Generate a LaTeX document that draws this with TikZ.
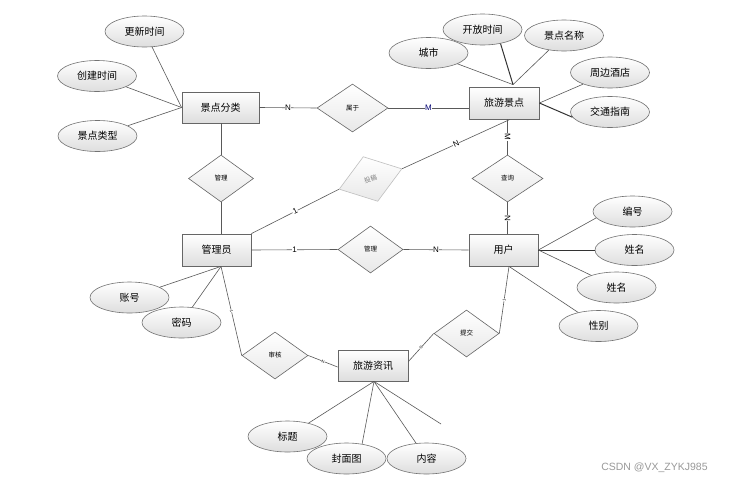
\documentclass[tikz,border=0pt]{standalone}
\usepackage{fontspec}
\setmainfont{Liberation Sans}
\newfontfamily\cjk{Noto Sans CJK SC}
\usetikzlibrary{shapes.geometric,calc}
\begin{document}
\begin{tikzpicture}[x=1pt,y=-1pt,
  ent/.style={draw=black!60, line width=0.8pt, rectangle, top color=white, bottom color=black!13, minimum width=70pt, minimum height=31pt, inner sep=0pt, font=\cjk\fontsize{10}{12}\selectfont},
  attr/.style={draw=black!55, line width=0.6pt, ellipse, top color=white, bottom color=black!13, minimum width=79pt, minimum height=31pt, inner sep=0pt, font=\cjk\fontsize{10}{12}\selectfont},
  rel/.style={draw=black!60, line width=0.6pt, diamond, top color=white, bottom color=black!9, minimum width=65pt, minimum height=47pt, inner sep=0pt, font=\cjk\fontsize{6.5}{8}\selectfont},
  ln/.style={draw=black!65, line width=0.6pt},
  thk/.style={draw=black!80, line width=1pt},
  card/.style={fill=white, inner sep=0.5pt, font=\fontsize{8}{9}\selectfont},
  tinylbl/.style={fill=white, inner sep=0.2pt, font=\fontsize{4}{5}\selectfont, sloped}
]
\useasboundingbox (0,0) rectangle (730,482);
\fill[white] (0,0) rectangle (730,482);

% entities
\node[ent, minimum width=77pt] (jdfl) at (220.5,107.5) {景点分类};
\node[ent, minimum height=32pt] (lyjd) at (504,103) {旅游景点};
\node[ent, minimum width=69pt, minimum height=32pt] (gly) at (216.5,250) {管理员};
\node[ent, minimum width=69pt, minimum height=32pt] (yh) at (503.5,250) {用户};
\node[ent] (lyzx) at (373,365.5) {旅游资讯};

% relationships
\node[rel, minimum width=71pt, minimum height=48pt] (sy) at (352.5,108) {属于};
\node[rel] (gl1) at (221,178.5) {管理};
\node[rel, minimum width=66pt, draw=black!25, text=black!50, rotate=18] (tg) at (370.5,179) {投稿};
\node[rel, minimum width=71pt] (cx) at (507.5,178.5) {查询};
\node[rel] (gl2) at (370.5,249.5) {管理};
\node[rel, minimum width=66pt] (sh) at (275,355.5) {审核};
\node[rel] (tj) at (466.5,333.5) {提交};

% attributes
\node[attr] (gxsj) at (144.5,31.5) {更新时间};
\node[attr] (cjsj) at (97,76) {创建时间};
\node[attr] (jdlx) at (97.5,136) {景点类型};
\node[attr] (cs) at (428.5,53) {城市};
\node[attr] (kfsj) at (482.5,29.5) {开放时间};
\node[attr] (jdmc) at (564,35.5) {景点名称};
\node[attr] (zbjd) at (610,72.5) {周边酒店};
\node[attr] (jtzn) at (610,112) {交通指南};
\node[attr] (bh) at (632.5,211.5) {编号};
\node[attr] (xma) at (634.5,250) {姓名};
\node[attr] (xmb) at (616.5,287.5) {姓名};
\node[attr] (xb) at (598.5,326) {性别};
\node[attr] (zh) at (129.5,297.5) {账号};
\node[attr] (mm) at (181.5,322.5) {密码};
\node[attr] (bt) at (287.5,436.5) {标题};
\node[attr] (fmt) at (346.5,458.5) {封面图};
\node[attr] (nr) at (426.5,458.5) {内容};
\coordinate (dang) at (441,424);

% attribute lines
\draw[ln] (gxsj) -- (jdfl.west);
\draw[ln] (cjsj) -- (jdfl.west);
\draw[ln] (jdlx) -- (jdfl.west);
\draw[ln] (cs) -- ([xshift=9pt,yshift=2pt]lyjd.north);
\draw[thk] (kfsj.-38) -- ([xshift=9pt,yshift=2pt]lyjd.north);
\draw[ln] (jdmc) -- ([xshift=9pt,yshift=2pt]lyjd.north);
\draw[ln] (zbjd) -- (lyjd.east);
\draw[thk] (jtzn.188) -- (lyjd.east);
\draw[ln] (bh.190) -- (yh.east);
\draw[thk] (xma) -- (yh.east);
\draw[ln] (xmb) -- (yh.east);
\draw[ln] (xb) -- ([xshift=5.5pt]yh.south);
\draw[ln] (zh) -- ([xshift=4.5pt]gly.south);
\draw[ln] (mm) -- ([xshift=4.5pt]gly.south);
\draw[ln] (bt) -- ([xshift=1pt]lyzx.south);
\draw[ln] (fmt.43) -- ([xshift=1pt]lyzx.south);
\draw[ln] (nr) -- ([xshift=1pt]lyzx.south);
\draw[ln] ([xshift=1pt]lyzx.south) -- (dang);

% relationship lines
\draw[ln] (jdfl.east) -- node[card]{N} (sy.west);
\draw[ln] (sy.east) -- node[card, text=blue!45!black]{M} (sy.east -| lyjd.west);
\draw[ln] (gl1.north |- jdfl.south) -- (gl1.north);
\draw[ln] (gl1.south) -- (gl1.south |- gly.north);
\draw[ln] ([xshift=6pt]lyjd.south) -- node[card, sloped]{N} (tg.east);
\draw[ln] (gly.north east) -- node[card, sloped]{1} (tg.west);
\draw[ln] (cx.north |- lyjd.south) -- node[card, sloped]{M} (cx.north);
\draw[ln] (cx.south) -- node[card, sloped]{N} (cx.south |- yh.north);
\draw[ln] (gly.east) -- node[card]{1} (gl2.west);
\draw[ln] (gl2.east) -- node[card]{N} (yh.west);
\draw[ln] ([xshift=4.5pt]gly.south) -- node[tinylbl]{1} (sh.west);
\draw[ln] (sh.east) -- node[tinylbl]{N} ([yshift=-1.5pt]lyzx.west);
\draw[ln] ([xshift=5.5pt]yh.south) -- node[tinylbl]{1} (tj.east);
\draw[ln] (tj.west) -- node[tinylbl]{N} ([yshift=4pt]lyzx.east);

% watermark
\node[text=black!40, font=\fontsize{10.5}{12}\selectfont, inner sep=0pt] (wm) at (654.5,468) {CSDN @VX\_ZYKJ985};
\end{tikzpicture}
\end{document}
